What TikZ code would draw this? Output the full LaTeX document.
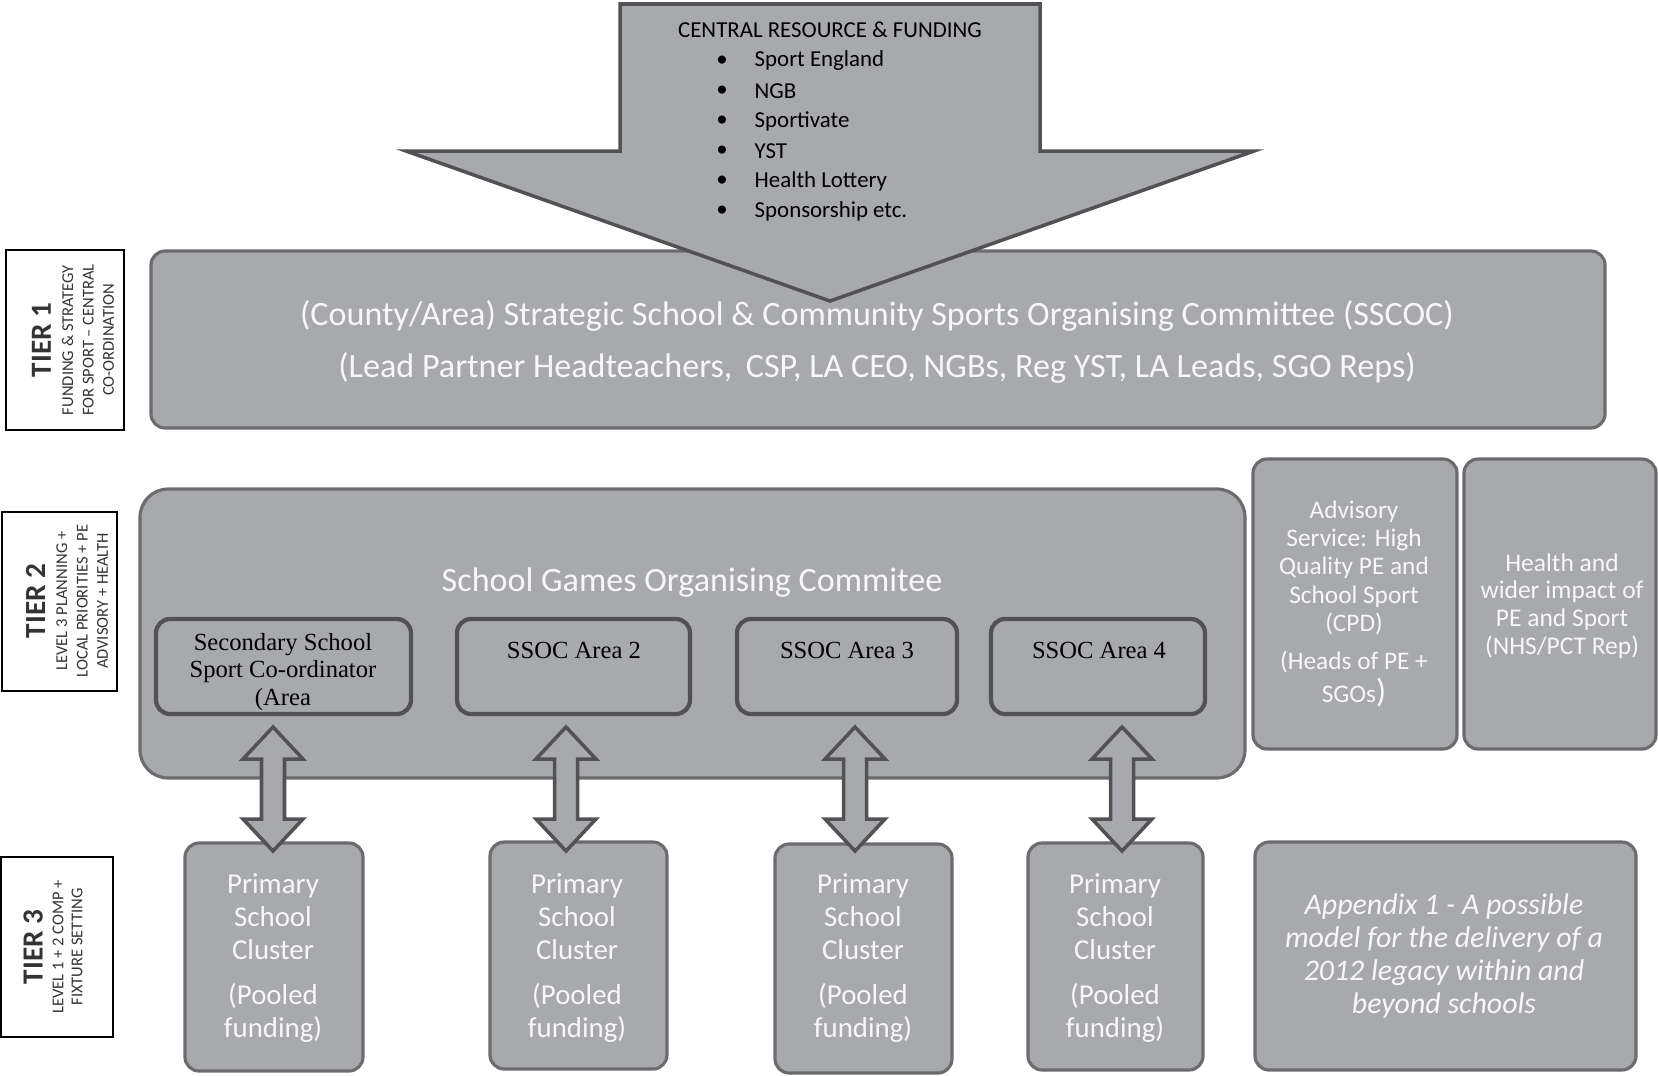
\documentclass[tikz,border=0pt]{standalone}
\usepackage{fontspec}
\setmainfont{Carlito}
\newfontfamily\timesfont{Liberation Serif}
\usetikzlibrary{calc,positioning}
\definecolor{boxgray}{RGB}{168,169,173}
\definecolor{edgegray}{RGB}{108,108,110}
\definecolor{arrowedge}{RGB}{82,82,84}
\definecolor{paletext}{RGB}{247,247,247}

\begin{document}
\begin{tikzpicture}
  [x=0.01cm, y=-0.01cm,
    tier/.style={
      draw=black, line width=0.45pt,
      fill=white
    },
    tiertext/.style={
      rotate=90, align=center,
      text=black!80,
      font=\fontsize{4.7}{5.8}\selectfont
    },
    panel/.style={
      draw=edgegray, line width=0.9pt,
      fill=boxgray,
      rounded corners=4pt
    },
    areabox/.style={
      draw=arrowedge, line width=1.2pt,
      fill=boxgray,
      rounded corners=4pt
    },
    label/.style={
      text=paletext, align=center
    },
    blockarrow/.style={
      draw=arrowedge, line width=1pt,
      fill=boxgray
    }
  ]
  \useasboundingbox (0,0) rectangle (1658,1075);

  % tier labels on the left
  \draw[tier] (6,250) rectangle (124,430);
  \draw[tier] (2,512) rectangle (117,691);
  \draw[tier] (1,857) rectangle (113,1037);
  \node[tiertext] (tier1) at (73,340)
    {{\fontsize{8.3}{9}\selectfont\bfseries TIER 1}\\[0.5pt]
     FUNDING \& STRATEGY\\FOR SPORT -- CENTRAL\\CO-ORDINATION};
  \node[tiertext] (tier2) at (67,601)
    {{\fontsize{8.3}{9}\selectfont\bfseries TIER 2}\\[0.5pt]
     LEVEL 3 PLANNING +\\LOCAL PRIORITIES + PE\\ADVISORY + HEALTH};
  \node[tiertext, font=\fontsize{4.7}{5.4}\selectfont] (tier3) at (53,947)
    {{\fontsize{8.3}{9}\selectfont\bfseries TIER 3}\\[0.5pt]
     LEVEL 1 + 2 COMP +\\FIXTURE SETTING};

  % tier 1
  \draw[panel] (151,251) rectangle (1605,428);
  \node[label, font=\fontsize{9.7}{14.8}\selectfont] (sscoc) at (877,342)
    {(County/Area) Strategic School \& Community Sports Organising Committee (SSCOC)\\
     (Lead Partner Headteachers,\, CSP, LA CEO, NGBs, Reg YST, LA Leads, SGO Reps)};

  % funding arrow
  \draw[blockarrow] (620,4) -- (1040,4) -- (1040,151) -- (1254,151)
    -- (830,301) -- (406,151) -- (620,151) -- cycle;
  \node[font=\fontsize{6.5}{8.5}\selectfont] (fund) at (830,30) {CENTRAL RESOURCE \& FUNDING};
  \foreach \t [count=\i] in {Sport England, NGB, Sportivate, YST, Health Lottery, Sponsorship etc.}{
    \node[font=\fontsize{6.5}{8.5}\selectfont] (dot\i) at (722,31+30*\i) {\textbullet};
    \node[anchor=west, font=\fontsize{6.5}{8.5}\selectfont, inner sep=0pt] (item\i) at (754,31+30*\i) {\t};
  }

  % tier 2
  \draw[panel, rounded corners=8pt] (140,489) rectangle (1245,778);
  \node[label, font=\fontsize{9.7}{11}\selectfont] (sgoc) at (692,583) {School Games Organising Commitee};

  \draw[areabox] (156,619) rectangle (411,714);
  \draw[areabox] (457,619) rectangle (690,714);
  \draw[areabox] (737,619) rectangle (957,714);
  \draw[areabox] (991,619) rectangle (1205,714);
  \node[align=center, font=\timesfont\fontsize{7}{7.7}\selectfont] (area1) at (283,672)
    {Secondary School\\Sport Co-ordinator\\(Area};
  \node[font=\timesfont\fontsize{7}{7.7}\selectfont] (area2) at (574,650) {SSOC Area 2};
  \node[font=\timesfont\fontsize{7}{7.7}\selectfont] (area3) at (847,650) {SSOC Area 3};
  \node[font=\timesfont\fontsize{7}{7.7}\selectfont] (area4) at (1099,650) {SSOC Area 4};

  \draw[panel] (1253,459) rectangle (1457,749);
  \draw[panel] (1464,459) rectangle (1656,749);
  \node[label, font=\fontsize{7.2}{8.1}\selectfont] (advice) at (1354,604)
    {Advisory\\Service: High\\Quality PE and\\School Sport\\(CPD)\\[2.5pt]
     (Heads of PE +\\[1.5pt]SGOs{\fontsize{9.5}{8.1}\selectfont)}};
  \node[label, font=\fontsize{7.25}{7.9}\selectfont] (health) at (1562,606)
    {Health and\\wider impact of\\PE and Sport\\(NHS/PCT Rep)};

  % tier 3
  \draw[panel] (185,843) rectangle (363,1071);
  \draw[panel] (490,842) rectangle (667,1069);
  \draw[panel] (775,844) rectangle (952,1073);
  \draw[panel] (1028,843) rectangle (1203,1070);
  \foreach \x [count=\i] in {273,577,863,1115}{
    \node[label, font=\fontsize{8.2}{9.3}\selectfont] (cluster\i) at (\x,958)
      {Primary\\School\\Cluster\\[3.5pt](Pooled\\funding)};
  }
  \draw[panel] (1255,842) rectangle (1636,1070);
  \node[label, font=\fontsize{8.5}{9.3}\selectfont\itshape] (note) at (1444,956)
    {Appendix 1 - A possible\\model for the delivery of a\\2012 legacy within and\\beyond schools};

  % two-way links between areas and clusters
  \foreach \n/\x in {1/273,2/566,3/855,4/1122}{
    \coordinate (up\n) at (\x,727);
    \draw[blockarrow] (up\n) -- ++(30,32) -- ++(-18.5,0) -- ++(0,60) -- ++(18.5,0)
      -- ++(-30,32) -- ++(-30,-32) -- ++(18.5,0) -- ++(0,-60) -- ++(-18.5,0) -- cycle;
  }
\end{tikzpicture}
\end{document}
